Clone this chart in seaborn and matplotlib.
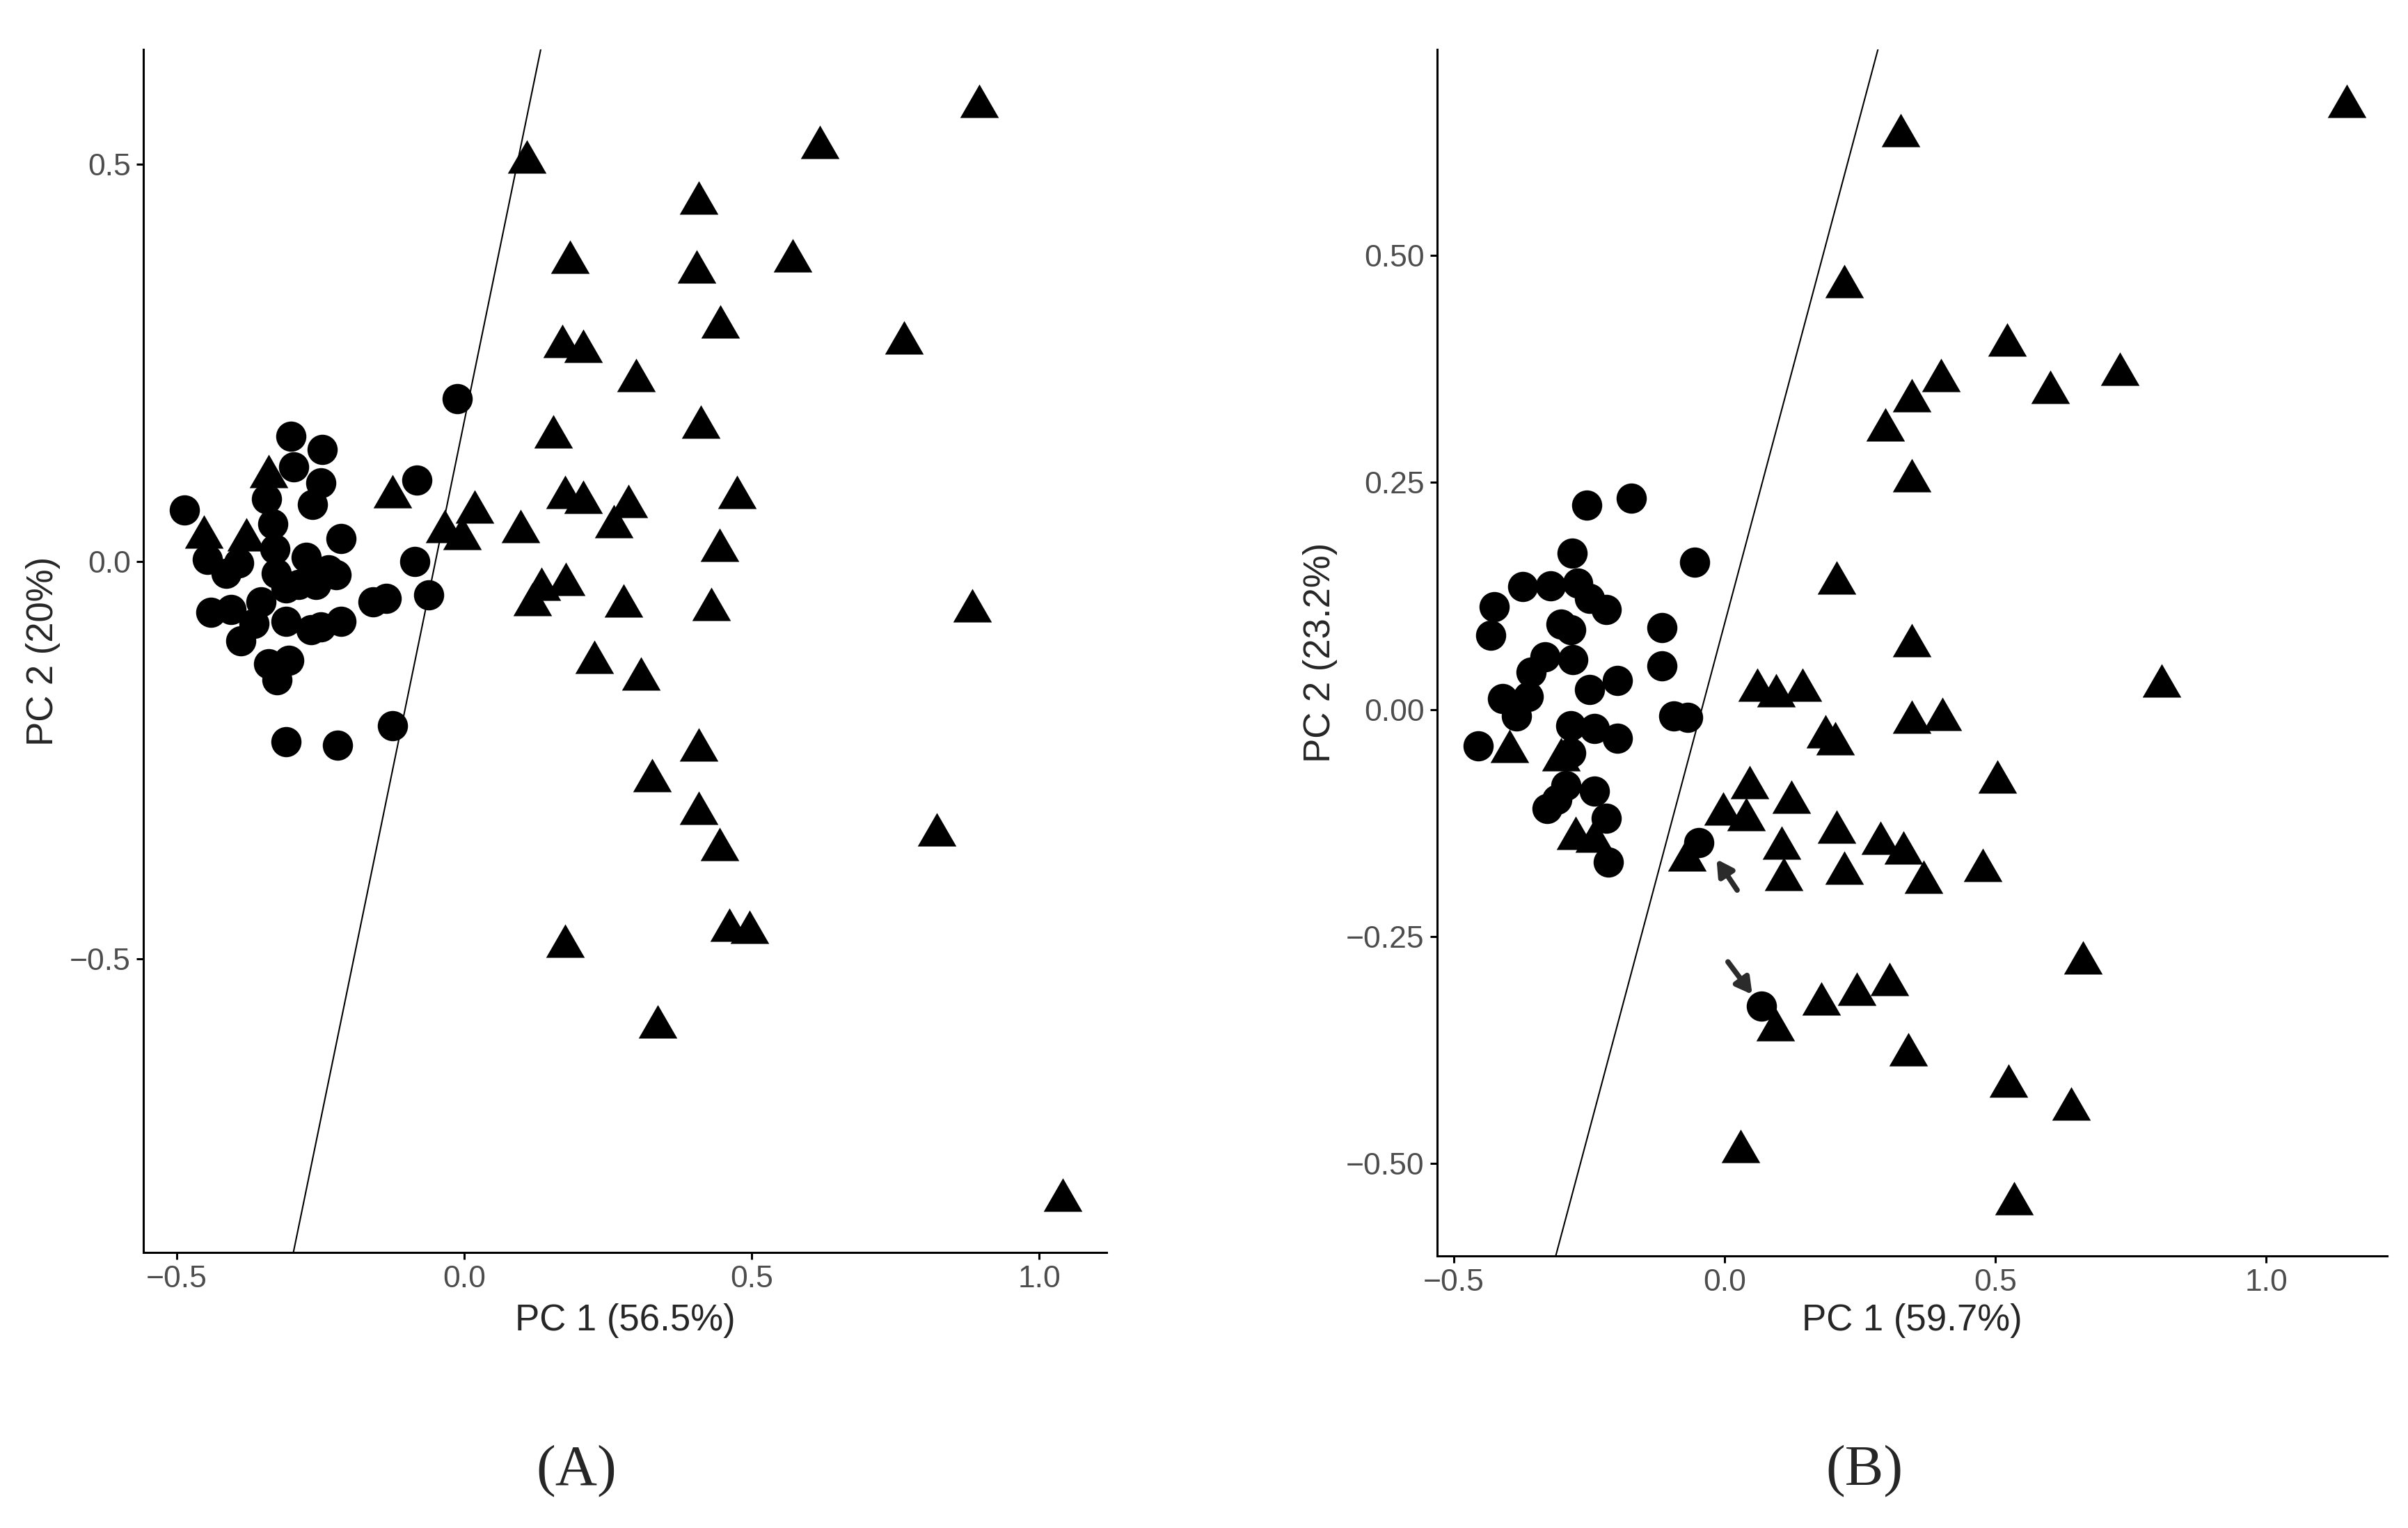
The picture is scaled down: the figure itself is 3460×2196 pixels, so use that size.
import pandas as pd
import seaborn as sns
import matplotlib.pyplot as plt

# 1. Scores (PC1, PC2)
a_circles = [
    (-0.487, 0.065), (-0.301, 0.158), (-0.247, 0.141), (-0.249, 0.099), (-0.264, 0.072),
    (-0.344, 0.079), (-0.296, 0.119), (-0.333, 0.047), (-0.329, 0.016), (-0.214, 0.029),
    (-0.275, 0.005), (-0.236, -0.010), (-0.327, -0.015), (-0.288, -0.029), (-0.258, -0.029),
    (-0.446, 0.003), (-0.414, -0.015), (-0.392, -0.002), (-0.440, -0.064), (-0.405, -0.060),
    (-0.353, -0.051), (-0.388, -0.100), (-0.366, -0.078), (-0.310, -0.075), (-0.266, -0.086),
    (-0.249, -0.082), (-0.214, -0.075), (-0.340, -0.129), (-0.305, -0.124), (-0.325, -0.149),
    (-0.136, -0.046), (-0.158, -0.051), (-0.062, -0.042), (-0.086, 0.000), (-0.082, 0.103),
    (-0.012, 0.205), (-0.125, -0.207), (-0.310, -0.227), (-0.220, -0.231), (-0.223, -0.017),
    (-0.310, -0.033),
]
a_triangles = [
    (0.896, 0.580), (0.618, 0.528), (0.109, 0.510), (0.408, 0.458), (0.184, 0.384),
    (0.571, 0.386), (0.404, 0.372), (0.445, 0.302), (0.171, 0.278), (0.207, 0.272),
    (0.765, 0.282), (0.299, 0.235), (0.411, 0.176), (0.155, 0.164), (0.474, 0.088),
    (0.175, 0.088), (0.207, 0.082), (0.286, 0.076), (0.260, 0.051), (0.444, 0.021),
    (0.135, -0.028), (0.119, -0.047), (0.177, -0.022), (0.277, -0.049), (0.430, -0.053),
    (0.883, -0.055), (0.227, -0.120), (0.308, -0.141), (0.408, -0.230), (0.327, -0.269),
    (0.408, -0.310), (0.444, -0.356), (0.822, -0.337), (0.461, -0.457), (0.496, -0.460),
    (0.175, -0.477), (0.336, -0.579), (1.041, -0.797),
    (-0.453, 0.038), (-0.379, 0.034), (-0.340, 0.114), (-0.125, 0.089), (-0.034, 0.045),
    (0.018, 0.069), (-0.004, 0.036), (0.098, 0.045),
]
b_circles = [
    (-0.254, 0.225), (-0.172, 0.233), (-0.282, 0.172), (-0.056, 0.162), (-0.425, 0.113),
    (-0.373, 0.135), (-0.321, 0.136), (-0.271, 0.139), (-0.250, 0.122), (-0.219, 0.110),
    (-0.432, 0.082), (-0.302, 0.094), (-0.284, 0.088), (-0.116, 0.090), (-0.116, 0.048),
    (-0.332, 0.058), (-0.280, 0.055), (-0.358, 0.041), (-0.198, 0.032), (-0.250, 0.022),
    (-0.410, 0.012), (-0.362, 0.014), (-0.384, -0.007), (-0.094, -0.007), (-0.068, -0.009),
    (-0.284, -0.018), (-0.241, -0.021), (-0.198, -0.032), (-0.455, -0.040), (-0.284, -0.048),
    (-0.293, -0.084), (-0.328, -0.109), (-0.241, -0.090), (-0.219, -0.120), (-0.215, -0.168),
    (-0.048, -0.147), (-0.310, -0.099), (0.068, -0.327),
]
b_triangles = [
    (1.149, 0.670), (0.325, 0.638), (0.221, 0.472), (0.521, 0.407), (0.730, 0.375),
    (0.399, 0.368), (0.601, 0.355), (0.346, 0.346), (0.297, 0.314), (0.346, 0.258),
    (0.207, 0.145), (0.346, 0.076), (0.807, 0.032), (0.060, 0.027), (0.095, 0.021),
    (0.144, 0.027), (0.346, -0.008), (0.402, -0.005), (0.186, -0.024), (0.204, -0.032),
    (0.503, -0.074), (0.046, -0.080), (-0.003, -0.109), (0.039, -0.115), (0.123, -0.096),
    (0.207, -0.129), (0.105, -0.147), (0.288, -0.141), (0.330, -0.152), (0.221, -0.174),
    (0.109, -0.181), (0.476, -0.171), (0.367, -0.184), (-0.070, -0.160), (0.661, -0.273),
    (0.304, -0.297), (0.244, -0.308), (0.179, -0.318), (0.094, -0.347), (0.339, -0.374),
    (0.524, -0.409), (0.640, -0.434), (0.029, -0.481), (0.535, -0.538),
    (-0.397, -0.040), (-0.302, -0.049), (-0.275, -0.136), (-0.240, -0.139),
]

# separating lines, two points each
a_line = [(-0.297, -0.870), (0.1325, 0.6426)]
b_line = [(-0.312, -0.602), (0.283, 0.727)]

# arrows in panel B: (tail, head)
b_arrows = [((0.023, -0.199), (-0.015, -0.165)), ((0.006, -0.278), (0.051, -0.314))]

a_xticks = [-0.5, 0.0, 0.5, 1.0]
a_yticks = [-0.5, 0.0, 0.5]
b_xticks = [-0.5, 0.0, 0.5, 1.0]
b_yticks = [-0.50, -0.25, 0.00, 0.25, 0.50]

panels = [
    dict(circ=a_circles, tri=a_triangles, line=a_line, arrows=[],
         xticks=a_xticks, yticks=a_yticks, ydec=1,
         xlim=(-0.558, 1.117), ylim=(-0.870, 0.645),
         xlabel='PC 1 (56.5%)', ylabel='PC 2 (20%)', tag='(A)',
         rect=[0.0595, 0.1803, 0.400, 0.7874], xlab_y=-0.0566, ylab_x=-0.104),
    dict(circ=b_circles, tri=b_triangles, line=b_line, arrows=b_arrows,
         xticks=b_xticks, yticks=b_yticks, ydec=2,
         xlim=(-0.531, 1.223), ylim=(-0.602, 0.727),
         xlabel='PC 1 (59.7%)', ylabel='PC 2 (23.2%)', tag='(B)',
         rect=[0.5968, 0.178, 0.3945, 0.7897], xlab_y=-0.0536, ylab_x=-0.123),
]

sns.set_style('ticks')
plt.rcParams['font.family'] = ['Liberation Sans', 'DejaVu Sans']

# equilateral triangle centred on its box (like ggplot shape 17)
tri_marker = [(0, 0.75), (-0.866, -0.75), (0.866, -0.75), (0, 0.75)]


def fmt(v, d):
    return f"{v:.{d}f}".replace('-', '\u2212')


fig = plt.figure(figsize=(34.6, 21.96), dpi=100)

for p in panels:
    ax = fig.add_axes(p['rect'])
    circ = pd.DataFrame(p['circ'], columns=['pc1', 'pc2'])
    tri = pd.DataFrame(p['tri'], columns=['pc1', 'pc2'])

    (x0, y0), (x1, y1) = p['line']
    ax.axline((x0, y0), (x1, y1), color='black', lw=1.5, zorder=1)

    sns.scatterplot(data=circ, x='pc1', y='pc2', ax=ax, color='black', marker='o',
                    s=980, linewidth=0, legend=False, zorder=3)
    sns.scatterplot(data=tri, x='pc1', y='pc2', ax=ax, color='black', marker=tri_marker,
                    s=1600, linewidth=0, legend=False, zorder=3)

    for tail, head in p['arrows']:
        ax.annotate('', xy=head, xytext=tail,
                    arrowprops=dict(arrowstyle='-|>,head_length=0.45,head_width=0.25',
                                    color='#2b2b2b', lw=5.5, mutation_scale=30,
                                    shrinkA=0, shrinkB=0), zorder=4)

    ax.set_xlim(*p['xlim'])
    ax.set_ylim(*p['ylim'])
    ax.set_xticks(p['xticks'])
    ax.set_xticklabels([fmt(v, 1) for v in p['xticks']])
    ax.set_yticks(p['yticks'])
    ax.set_yticklabels([fmt(v, p['ydec']) for v in p['yticks']])
    ax.tick_params(axis='both', labelsize=32, labelcolor='#4D4D4D', length=7,
                   width=2.2, color='black', pad=6)

    sns.despine(ax=ax)
    for side in ['left', 'bottom']:
        ax.spines[side].set_linewidth(2.2)
        ax.spines[side].set_color('black')

    ax.set_xlabel(p['xlabel'], fontsize=38)
    ax.set_ylabel(p['ylabel'], fontsize=38)
    ax.xaxis.set_label_coords(0.5, p['xlab_y'])
    ax.xaxis.label.set_verticalalignment('center')
    ax.yaxis.set_label_coords(p['ylab_x'], 0.5)
    ax.yaxis.label.set_verticalalignment('center')

    cx = p['rect'][0] + p['rect'][2] * 0.45
    fig.text(cx, 0.037, p['tag'], fontsize=60, ha='center', va='center',
             family=['Liberation Serif', 'DejaVu Serif'])

fig.savefig('out.png', dpi=100, facecolor='white')
